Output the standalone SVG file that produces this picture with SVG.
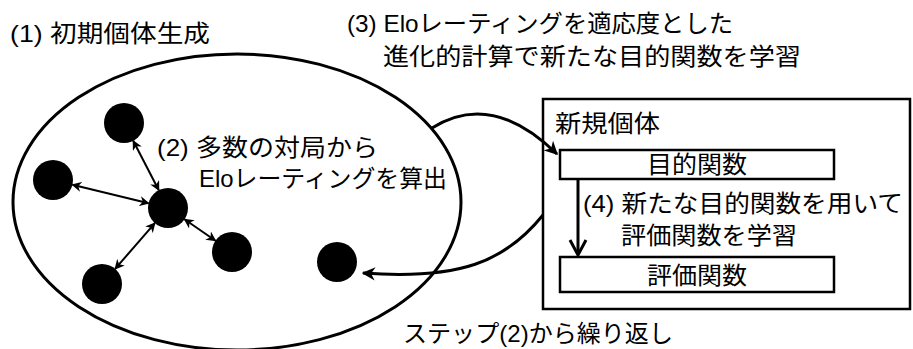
<svg xmlns="http://www.w3.org/2000/svg" width="913" height="349" viewBox="0 0 913 349">
<style>
text{font-family:"Liberation Sans","Noto Sans CJK JP",sans-serif;font-size:24px;fill:#000}
.c{text-anchor:middle}
.dot{fill:#000}
.thin{fill:none;stroke:#000;stroke-width:2}
.thick{fill:none;stroke:#000;stroke-width:3}
.box{fill:#fff;stroke:#000;stroke-width:2.5}
</style>
<defs>
<marker id="ah" viewBox="0 0 10 10" refX="9" refY="5" markerWidth="5" markerHeight="5" markerUnits="strokeWidth" orient="auto-start-reverse">
<path d="M0,0 L10,5 L0,10 L3,5 Z" fill="#000"/>
</marker>
<marker id="ah2" viewBox="0 0 10 10" refX="9" refY="5" markerWidth="4.5" markerHeight="4.5" markerUnits="strokeWidth" orient="auto">
<path d="M0,0 L10,5 L0,10 L3,5 Z" fill="#000"/>
</marker>
</defs>
<g id="title1"><text x="10" y="42" textLength="200" lengthAdjust="spacingAndGlyphs">(1) 初期個体生成</text></g>
<g id="title3">
<text x="347" y="32" textLength="386" lengthAdjust="spacingAndGlyphs">(3) Eloレーティングを適応度とした</text>
<text x="383" y="65" textLength="418" lengthAdjust="spacingAndGlyphs">進化的計算で新たな目的関数を学習</text>
</g>
<g id="population">
<ellipse cx="237" cy="202" rx="224" ry="148" fill="none" stroke="#000" stroke-width="3"/>
</g>
<g id="individuals">
<circle class="dot" cx="124" cy="123" r="20"/>
<circle class="dot" cx="53" cy="180" r="20"/>
<circle class="dot" cx="168" cy="208" r="20"/>
<circle class="dot" cx="232" cy="252" r="20"/>
<circle class="dot" cx="102" cy="284" r="20"/>
<circle class="dot" cx="337" cy="262" r="20"/>
</g>
<g id="label2">
<text x="157" y="156" textLength="221" lengthAdjust="spacingAndGlyphs">(2) 多数の対局から</text>
<text x="199" y="187" textLength="248" lengthAdjust="spacingAndGlyphs">Eloレーティングを算出</text>
</g>
<g id="newind">
<rect x="543" y="99" width="367" height="210" fill="#fff" stroke="#000" stroke-width="2.5"/>
<text x="555" y="132" textLength="105" lengthAdjust="spacingAndGlyphs">新規個体</text>
</g>
<g id="objfunc">
<rect class="box" x="560" y="150" width="274" height="29"/>
<text class="c" x="697" y="173" textLength="100" lengthAdjust="spacingAndGlyphs">目的関数</text>
</g>
<g id="label4">
<text x="583" y="212" textLength="320" lengthAdjust="spacingAndGlyphs">(4) 新たな目的関数を用いて</text>
<text x="621" y="244" textLength="176" lengthAdjust="spacingAndGlyphs">評価関数を学習</text>
</g>
<g id="evalfunc">
<rect class="box" x="560" y="257" width="274" height="35"/>
<text class="c" x="697" y="284" textLength="100" lengthAdjust="spacingAndGlyphs">評価関数</text>
</g>
<g id="label5"><text x="403" y="342" textLength="270" lengthAdjust="spacingAndGlyphs">ステップ(2)から繰り返し</text></g>
<g id="connectors">
<line class="thin" x1="158.8" y1="190.2" x2="133.2" y2="140.8" marker-start="url(#ah)" marker-end="url(#ah)"/>
<line class="thin" x1="148.6" y1="203.3" x2="72.4" y2="184.7" marker-start="url(#ah)" marker-end="url(#ah)"/>
<line class="thin" x1="184.5" y1="219.3" x2="215.5" y2="240.7" marker-start="url(#ah)" marker-end="url(#ah)"/>
<line class="thin" x1="154.9" y1="223.1" x2="115.1" y2="268.9" marker-start="url(#ah)" marker-end="url(#ah)"/>
<path class="thick" d="M432,128 C470,104 512,110 557,154" marker-end="url(#ah2)"/>
<path class="thick" d="M543,215 C505,262 460,280 363,273" marker-end="url(#ah2)"/>
<line class="thick" x1="578" y1="179" x2="578" y2="254"/>
<polyline class="thick" points="570,240 578,255 586,240"/>
</g>
</svg>
